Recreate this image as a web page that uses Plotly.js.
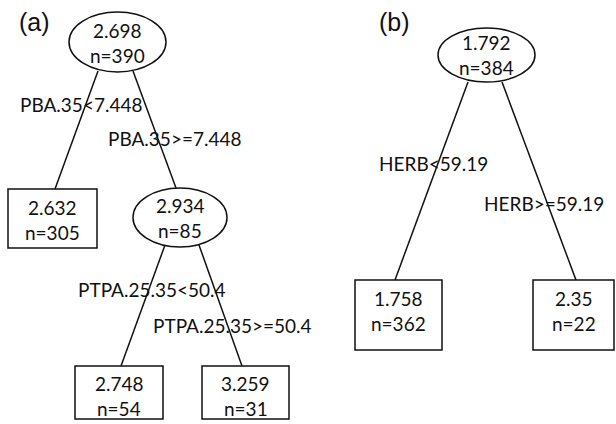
<!DOCTYPE html>
<html>
<head>
<meta charset="utf-8">
<script src="https://cdn.plot.ly/plotly-3.0.1.min.js"></script>
<style>html,body{margin:0;padding:0;background:#fff;}#chart{width:616px;height:424px;}</style>
</head>
<body>
<div id="chart"></div>
<script>
// ---- data ----
var panelLabels = ["(a)", "(b)"];
var nodeMeans  = ["2.698", "2.632", "2.934", "2.748", "3.259", "1.792", "1.758", "2.35"];
var nodeCounts = [390, 305, 85, 54, 31, 384, 362, 22];
var nodeKinds  = ["split", "leaf", "split", "leaf", "leaf", "split", "leaf", "leaf"];
var splitLabels = ["PBA.35<7.448", "PBA.35>=7.448", "PTPA.25.35<50.4", "PTPA.25.35>=50.4", "HERB<59.19", "HERB>=59.19"];
var edgeFrom = [0, 0, 2, 2, 5, 5];
var edgeTo   = [1, 2, 3, 4, 6, 7];

// ---- layout geometry (positions / sizes, not data) ----
var nodeX0 = [69, 8, 133, 75, 202, 438, 355, 533];
var nodeX1 = [166, 97, 227, 163, 289, 535, 442, 614];
var nodeY0 = [12, 189, 188, 366, 366, 28, 280, 280];
var nodeY1 = [72, 248, 247, 419, 419, 82, 350, 350];
var textY  = [43, 220, 218, 396, 396, 55, 310.5, 310.5];
var edgeStart = [[98,71],[133,71],[165,245],[199,245],[468,82],[502,82]];
var edgeEnd   = [[55,189],[176,188],[121,366],[242,366],[395,280],[576,280]];
var edgeLabelPos = [[81,104],[175,138],[152,289],[232,325],[433,163],[544,203]];
var panelLabelPos = [[34,22],[394,22]];

var ink = "#111";
var font = {family: "Lato, 'Open Sans', sans-serif", size: 19, color: ink};
var shapes = [];
var annotations = [];

for (var i = 0; i < nodeMeans.length; i++) {
  var cx = (nodeX0[i] + nodeX1[i]) / 2;
  shapes.push({
    type: nodeKinds[i] === "split" ? "circle" : "rect",
    xref: "x", yref: "y",
    x0: nodeX0[i], x1: nodeX1[i], y0: nodeY0[i], y1: nodeY1[i],
    line: {color: ink, width: 1.5}, fillcolor: "rgba(0,0,0,0)"
  });
  annotations.push({x: cx, y: textY[i] - 12.5, xref: "x", yref: "y", text: nodeMeans[i],
    showarrow: false, xanchor: "center", yanchor: "middle", font: font});
  annotations.push({x: cx, y: textY[i] + 12.5, xref: "x", yref: "y", text: "n=" + nodeCounts[i],
    showarrow: false, xanchor: "center", yanchor: "middle", font: font});
}
for (var e = 0; e < edgeFrom.length; e++) {
  shapes.push({type: "line", xref: "x", yref: "y",
    x0: edgeStart[e][0], y0: edgeStart[e][1], x1: edgeEnd[e][0], y1: edgeEnd[e][1],
    line: {color: ink, width: 1.5}});
  annotations.push({x: edgeLabelPos[e][0], y: edgeLabelPos[e][1], xref: "x", yref: "y",
    text: splitLabels[e].replace(/</g, "&lt;"), showarrow: false, xanchor: "center", yanchor: "middle", font: font});
}
for (var p = 0; p < panelLabels.length; p++) {
  annotations.push({x: panelLabelPos[p][0], y: panelLabelPos[p][1], xref: "x", yref: "y",
    text: panelLabels[p], showarrow: false, xanchor: "center", yanchor: "middle",
    font: {family: "'Liberation Sans', Arial, sans-serif", size: 25, color: ink}});
}

var layout = {
  width: 616, height: 424,
  margin: {l: 0, r: 0, t: 0, b: 0},
  paper_bgcolor: "#fff", plot_bgcolor: "#fff",
  xaxis: {range: [0, 616], visible: false, fixedrange: true},
  yaxis: {range: [424, 0], visible: false, fixedrange: true},
  shapes: shapes, annotations: annotations, showlegend: false
};
Plotly.newPlot("chart", [{x: [], y: [], type: "scatter", mode: "markers", hoverinfo: "skip"}], layout, {staticPlot: true});
</script>
</body>
</html>
